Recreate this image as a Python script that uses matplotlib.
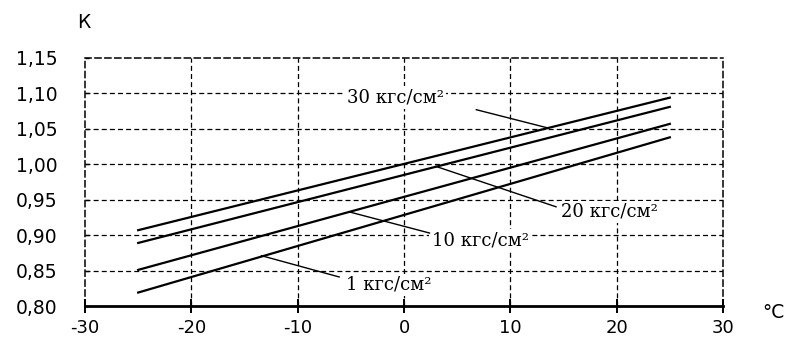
import matplotlib.pyplot as plt
import numpy as np

plt.rcParams['font.family'] = ['DejaVu Sans']
plt.rcParams['axes.unicode_minus'] = False

# temperature range of the curves, deg C
t_ends = [-25, 25]
# K at -25 and +25 for each pressure
k_30 = [0.907, 1.094]
k_20 = [0.889, 1.081]
k_10 = [0.851, 1.057]
k_1 = [0.819, 1.038]

x_ticks = [-30, -20, -10, 0, 10, 20, 30]
y_ticks = [0.80, 0.85, 0.90, 0.95, 1.00, 1.05, 1.10, 1.15]
y_labels = ['0,80', '0,85', '0,90', '0,95', '1,00', '1,05', '1,10', '1,15']

# label text, text position, leader start, leader end
labels = [
    ('30 кгс/см²', (-5.4, 1.094), (6.8, 1.077), (13.6, 1.051)),
    ('20 кгс/см²', (14.8, 0.933), (3.0, 0.997), (14.3, 0.940)),
    ('10 кгс/см²', (2.6, 0.893), (-5.2, 0.933), (2.4, 0.903)),
    ('1 кгс/см²', (-5.5, 0.830), (-13.4, 0.871), (-6.1, 0.841)),
]

fig = plt.figure(figsize=(7.91, 3.41), dpi=100)
ax = fig.add_axes([0.1075, 0.1026, 0.8065, 0.7274])

dash = (0, (4, 2.5))
ax.set_xlim(-30, 30)
ax.set_ylim(0.80, 1.15)
for xv in x_ticks[1:-1]:
    ax.axvline(xv, color='black', lw=0.9, ls=dash, zorder=1)
for yv in y_ticks[1:-1]:
    ax.axhline(yv, color='black', lw=0.9, ls=dash, zorder=1)

for s in ['left', 'top', 'right']:
    ax.spines[s].set_linestyle(dash)
    ax.spines[s].set_linewidth(1.1)
ax.spines['bottom'].set_linewidth(2.0)

for k in [k_30, k_20, k_10, k_1]:
    ax.plot(t_ends, k, color='black', lw=1.6, zorder=3)

for txt, tpos, p0, p1 in labels:
    ax.plot([p0[0], p1[0]], [p0[1], p1[1]], color='black', lw=1.0, zorder=3)
    ax.text(tpos[0], tpos[1], txt, fontsize=13, family=['DejaVu Serif'],
            ha='left', va='center', zorder=2,
            bbox=dict(facecolor='white', edgecolor='none', pad=1.5))

ax.set_xticks(x_ticks)
ax.set_yticks(y_ticks)
ax.set_yticklabels(y_labels)
ax.tick_params(axis='x', direction='inout', length=10, width=1.4, labelsize=13, pad=4)
ax.tick_params(axis='y', direction='in', length=3, width=1.0, labelsize=13.5, pad=20)

fig.text(84 / 791, 1 - 23 / 341, 'К', fontsize=13.5, ha='center', va='center')
fig.text(773 / 791, 1 - 312 / 341, '°C', fontsize=13.5, ha='center', va='center')

plt.savefig('out.png', dpi=100)
